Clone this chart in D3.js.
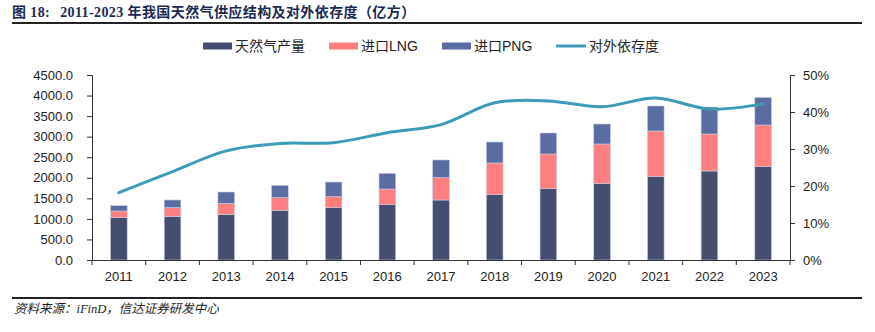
<!DOCTYPE html>
<html>
<head>
<meta charset="utf-8">
<script src="https://cdn.jsdelivr.net/npm/d3@7"></script>
<style>
  body { margin: 0; background: #fff; }
  svg { display: block; }
</style>
</head>
<body>
<script>
// data (亿方, %)
var years = ['2011','2012','2013','2014','2015','2016','2017','2018','2019','2020','2021','2022','2023'];
var production = [1029, 1053, 1102, 1208, 1273, 1346, 1460, 1589, 1735, 1857, 2027, 2165, 2270];
var lng =        [ 163,  220,  276,  308,  268,  381,  543,  771,  844,  965, 1111,  900, 1014];
var png =        [ 129,  187,  276,  300,  356,  381,  430,  510,  510,  486,  608,  655,  668];
var dependence = [18.2, 23.9, 29.5, 31.5, 31.7, 34.4, 36.6, 42.5, 43.0, 41.4, 43.8, 40.8, 42.2];

var leftTicks = [0, 500, 1000, 1500, 2000, 2500, 3000, 3500, 4000, 4500];
var rightTicks = [0, 10, 20, 30, 40, 50];

var seriesNames = ['天然气产量', '进口LNG', '进口PNG', '对外依存度'];
var colors = ['#454e6e', '#ff7f80', '#5b6ca2', '#3d9bb8'];

var W = 875, H = 332;
var margin = { top: 75, right: 85, bottom: 72, left: 92 },
    width = W - margin.left - margin.right,
    height = H - margin.top - margin.bottom;

var svg = d3.select('body').append('svg')
    .attr('width', W)
    .attr('height', H);

// title + rules
var title = svg.append('text')
    .attr('x', 12).attr('y', 17)
    .attr('fill', '#1b2a52')
    .attr('font-family', '"Liberation Serif", "Noto Sans CJK SC", serif')
    .attr('font-weight', 'bold')
    .attr('font-size', 14)
    .attr('letter-spacing', 0.4);
title.append('tspan').text('图 18:');
title.append('tspan').attr('dx', 10).text('2011-2023 年我国天然气供应结构及对外依存度（亿方）');

svg.append('line').attr('x1', 12).attr('x2', 862).attr('y1', 23).attr('y2', 23)
    .attr('stroke', '#222').attr('stroke-width', 1.8);
svg.append('line').attr('x1', 12).attr('x2', 862).attr('y1', 298).attr('y2', 298)
    .attr('stroke', '#222').attr('stroke-width', 1.8);
svg.append('text')
    .attr('x', 14).attr('y', 313)
    .attr('fill', '#222')
    .attr('font-family', '"Liberation Serif", "Noto Sans CJK SC", serif')
    .attr('font-style', 'italic')
    .attr('font-size', 12.5)
    .text('资料来源：iFinD，信达证券研发中心');

var g = svg.append('g')
    .attr('transform', 'translate(' + margin.left + ',' + margin.top + ')');

var x = d3.scaleBand().domain(years).range([0, width]);
var y = d3.scaleLinear().domain([0, 4500]).range([height, 0]);
var y2 = d3.scaleLinear().domain([0, 50]).range([height, 0]);

// stacked bars
var rows = years.map(function (yr, i) {
    return { year: yr, p: production[i], l: lng[i], n: png[i] };
});
var stack = d3.stack().keys(['p', 'l', 'n'])(rows);
var barW = x.bandwidth() * 0.31;

g.selectAll('.layer')
    .data(stack)
    .enter().append('g')
    .attr('fill', function (d, i) { return colors[i]; })
    .selectAll('rect')
    .data(function (d) { return d; })
    .enter().append('rect')
    .attr('x', function (d) { return x(d.data.year) + (x.bandwidth() - barW) / 2; })
    .attr('width', barW)
    .attr('y', function (d) { return y(d[1]); })
    .attr('height', function (d) { return y(d[0]) - y(d[1]); })
    .attr('stroke', '#c9cbe0')
    .attr('stroke-width', 0.6);

// dependence line
var line = d3.line()
    .x(function (d, i) { return x(years[i]) + x.bandwidth() / 2; })
    .y(function (d) { return y2(d); })
    .curve(d3.curveCatmullRom.alpha(0.5));

g.append('path')
    .datum(dependence)
    .attr('fill', 'none')
    .attr('stroke', colors[3])
    .attr('stroke-width', 3)
    .attr('stroke-linecap', 'round')
    .attr('d', line);

// axes
var tickFont = '"Liberation Sans", Arial, sans-serif';

var leftAxis = g.append('g')
    .call(d3.axisLeft(y).tickValues(leftTicks).tickSize(5).tickPadding(14)
        .tickFormat(function (d) { return d3.format('.1f')(d); }));

var rightAxis = g.append('g')
    .attr('transform', 'translate(' + width + ',0)')
    .call(d3.axisRight(y2).tickValues(rightTicks).tickSize(5).tickPadding(8)
        .tickFormat(function (d) { return d + '%'; }));

var xAxis = g.append('g')
    .attr('transform', 'translate(0,' + height + ')')
    .call(d3.axisBottom(x).tickSize(0).tickPadding(12));

// category separators on the x axis
g.append('g')
    .selectAll('line')
    .data(years.concat(['end']))
    .enter().append('line')
    .attr('x1', function (d, i) { return i * x.step(); })
    .attr('x2', function (d, i) { return i * x.step(); })
    .attr('y1', height)
    .attr('y2', height + 5)
    .attr('stroke', '#333');

[leftAxis, rightAxis, xAxis].forEach(function (a) {
    a.select('.domain').attr('stroke', '#333');
    a.selectAll('.tick line').attr('stroke', '#333');
    a.selectAll('text')
        .attr('fill', '#222')
        .attr('font-family', tickFont)
        .attr('font-size', 13);
});

// legend
var legendX = [203, 329, 442, 556];
var legend = svg.append('g');
seriesNames.forEach(function (name, i) {
    var item = legend.append('g').attr('transform', 'translate(' + legendX[i] + ',46)');
    if (i < 3) {
        item.append('rect').attr('x', 0).attr('y', -3.5).attr('width', 29).attr('height', 7)
            .attr('fill', colors[i]);
    } else {
        item.append('line').attr('x1', 0).attr('x2', 30).attr('y1', 0).attr('y2', 0)
            .attr('stroke', colors[i]).attr('stroke-width', 3);
    }
    item.append('text')
        .attr('x', i < 3 ? 32 : 33)
        .attr('y', 5)
        .attr('fill', '#222')
        .attr('font-family', '"Liberation Sans", "Noto Sans CJK SC", sans-serif')
        .attr('font-size', 14)
        .text(name);
});
</script>
</body>
</html>
